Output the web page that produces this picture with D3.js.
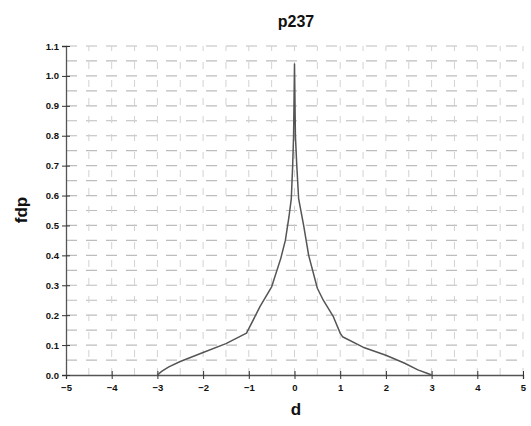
<!DOCTYPE html>
<html><head><meta charset="utf-8">
<script src="https://cdn.jsdelivr.net/npm/d3@7"></script>
<style>body{margin:0;background:#fff}svg{display:block}</style>
</head><body>
<svg id="c" width="531" height="426"></svg>
<script>
const titleText = "p237";
const xLabel = "d";
const yLabel = "fdp";
const xTicks = [-5,-4,-3,-2,-1,0,1,2,3,4,5];
const yTicks = [0,0.1,0.2,0.3,0.4,0.5,0.6,0.7,0.8,0.9,1.0,1.1];
const xGrid = [-4.5,-4,-3.5,-3,-2.5,-2,-1.5,-1,-0.5,0,0.5,1,1.5,2,2.5,3,3.5,4,4.5,5];
const yGrid = [0.05,0.1,0.15,0.2,0.25,0.3,0.35,0.4,0.45,0.5,0.55,0.6,0.65,0.7,0.75,0.8,0.85,0.9,0.95,1.0,1.05,1.1];
const dX = [-3,-2.9,-2.75,-2.5,-2,-1.5,-1.05,-0.75,-0.5,-0.3,-0.2,-0.12,-0.07,-0.04,-0.02,0,0.02,0.05,0.09,0.2,0.31,0.5,0.63,0.85,1.0,1.05,1.5,2.0,2.4,2.7,2.9,3.0];
const fdp = [0,0.013,0.027,0.045,0.075,0.105,0.14,0.23,0.295,0.39,0.45,0.53,0.59,0.7,0.8,1.04,0.8,0.7,0.59,0.5,0.40,0.29,0.25,0.195,0.14,0.128,0.093,0.066,0.04,0.017,0.006,0];

const svg = d3.select("#c");
const m = {l:66, r:8, t:46, b:51};
const W = 531, H = 426;
const x = d3.scaleLinear().domain([-5,5]).range([m.l, W-m.r]);
const y = d3.scaleLinear().domain([0,1.1]).range([H-m.b, m.t]);

const g = svg.append("g");
g.selectAll(".hg").data(yGrid).join("line")
  .attr("x1", x(-5)).attr("x2", x(5))
  .attr("y1", d=>y(d)).attr("y2", d=>y(d))
  .attr("stroke", "#bdbdbd").attr("stroke-width", 1.2)
  .attr("stroke-dasharray", "11,9");
g.selectAll(".vg").data(xGrid).join("line")
  .attr("y1", y(0)).attr("y2", y(1.1))
  .attr("x1", d=>x(d)).attr("x2", d=>x(d))
  .attr("stroke", "#d2d2d2").attr("stroke-width", 1)
  .attr("stroke-dasharray", "7,11");

const xa = svg.append("g").attr("transform", `translate(0,${y(0)})`)
  .call(d3.axisBottom(x).tickValues(xTicks).tickSize(4).tickFormat(d3.format("d")));
const ya = svg.append("g").attr("transform", `translate(${x(-5)},0)`)
  .call(d3.axisLeft(y).tickValues(yTicks).tickSize(4).tickFormat(d3.format(".1f")));
[xa, ya].forEach(a => {
  a.select(".domain").attr("stroke", "#555").attr("stroke-width", 1.3);
  a.selectAll(".tick line").attr("stroke", "#333");
  a.selectAll("text").attr("font-family", "Liberation Sans, Arial, sans-serif")
    .attr("font-size", 9.5).attr("font-weight", "bold").attr("fill", "#111");
});
xa.selectAll(".tick line").attr("y1", -4).attr("y2", 4);
xa.selectAll("text").attr("dy", "0.9em");
ya.selectAll(".tick line").attr("x1", -4).attr("x2", 4);

svg.append("path").datum(dX.map((v,i)=>[v,fdp[i]]))
  .attr("d", d3.line().x(d=>x(d[0])).y(d=>y(d[1])))
  .attr("fill", "none").attr("stroke", "#555").attr("stroke-width", 1.5)
  .attr("stroke-linejoin", "round");

svg.append("text").attr("x", 296).attr("y", 27).attr("text-anchor", "middle")
  .attr("font-family", "Liberation Sans, Arial, sans-serif").attr("font-size", 16)
  .attr("font-weight", "bold").attr("fill", "#111").text(titleText);
svg.append("text").attr("x", 296).attr("y", 415).attr("text-anchor", "middle")
  .attr("font-family", "Liberation Sans, Arial, sans-serif").attr("font-size", 17)
  .attr("font-weight", "bold").attr("fill", "#111").text(xLabel);
svg.append("text").attr("transform", "translate(27,210) rotate(-90)").attr("text-anchor", "middle")
  .attr("font-family", "Liberation Sans, Arial, sans-serif").attr("font-size", 17)
  .attr("font-weight", "bold").attr("fill", "#111").text(yLabel);
</script>
</body></html>
